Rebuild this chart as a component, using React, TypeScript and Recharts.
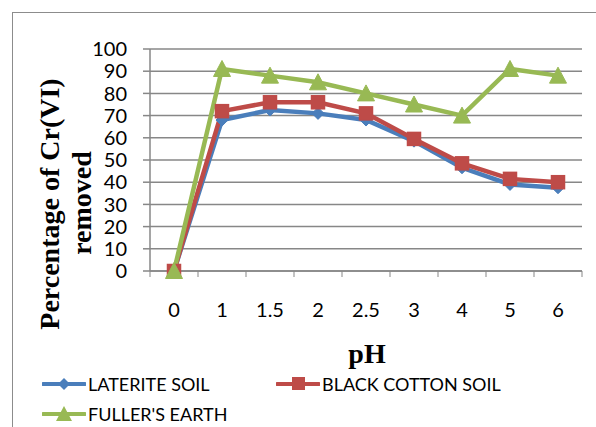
import { LineChart, Line, XAxis, YAxis, CartesianGrid } from 'recharts'

document.body.style.margin = '0'

const phLevels = ['0', '1', '1.5', '2', '2.5', '3', '4', '5', '6']
const lateriteSoil = [0, 68, 72.5, 71, 68, 58.5, 46.5, 39, 37.5]
const blackCottonSoil = [0, 72, 76, 76, 71, 59.5, 48.5, 41.5, 40]
const fullersEarth = [0, 91, 88, 85, 80, 75, 70, 91, 88]
const yTicks = [0, 10, 20, 30, 40, 50, 60, 70, 80, 90, 100]

const BLUE = '#4A7EBB'
const RED = '#BE4B48'
const GREEN = '#98B954'
const GRID = '#878787'

const data = phLevels.map((ph, i) => ({
  ph,
  laterite: lateriteSoil[i],
  blackCotton: blackCottonSoil[i],
  fullers: fullersEarth[i]
}))

const Diamond = (props: any) => {
  const { cx, cy } = props
  if (cx == null || cy == null) return null
  const r = 6
  return <path d={`M${cx},${cy - r}L${cx + r},${cy}L${cx},${cy + r}L${cx - r},${cy}Z`} fill={BLUE} stroke={BLUE} />
}

const Square = (props: any) => {
  const { cx, cy } = props
  if (cx == null || cy == null) return null
  const s = 13
  return <rect x={cx - s / 2} y={cy - s / 2} width={s} height={s} fill={RED} stroke={RED} strokeWidth={1.5} />
}

const Triangle = (props: any) => {
  const { cx, cy } = props
  if (cx == null || cy == null) return null
  const h = 15
  const w = 17
  return <path d={`M${cx},${cy - h / 2 - 1}L${cx + w / 2},${cy + h / 2}L${cx - w / 2},${cy + h / 2}Z`} fill={GREEN} stroke={GREEN} />
}

const XTick = (props: any) => {
  const { x, y, payload, index, width } = props
  const half = (width ?? 432) / phLevels.length / 2
  return (
    <g>
      <line x1={x - half} y1={y} x2={x - half} y2={y + 6} stroke={GRID} />
      {index === phLevels.length - 1 ? (
        <line x1={x + half} y1={y} x2={x + half} y2={y + 6} stroke={GRID} />
      ) : null}
      <text x={x} y={y + 46} textAnchor='middle' fill='#000' fontFamily='Lato' fontSize={20}>
        {payload.value}
      </text>
    </g>
  )
}

const legendItems = [
  { label: 'LATERITE SOIL', color: BLUE, marker: 'diamond', left: 42, top: 384 },
  { label: 'BLACK COTTON SOIL', color: RED, marker: 'square', left: 276, top: 384 },
  { label: "FULLER'S EARTH", color: GREEN, marker: 'triangle', left: 42, top: 414 }
]

const LegendMarker = ({ color, marker }: { color: string; marker: string }) => (
  <svg width={44} height={18} style={{ display: 'block' }}>
    <line x1={1} y1={9} x2={43} y2={9} stroke={color} strokeWidth={4} strokeLinecap='round' />
    {marker === 'diamond' ? <path d='M22,3L28,9L22,15L16,9Z' fill={color} /> : null}
    {marker === 'square' ? <rect x={16} y={2} width={13} height={13} fill={color} /> : null}
    {marker === 'triangle' ? <path d='M22,1L30,16L14,16Z' fill={color} /> : null}
  </svg>
)

export default function App() {
  return (
    <div style={{ position: 'relative', width: 596, height: 427, overflow: 'hidden', background: '#fff' }}>
      <div
        style={{
          position: 'absolute',
          left: 12,
          top: 12,
          width: 600,
          height: 440,
          border: '1.5px solid #8c8c8c'
        }}
      />
      <div style={{ position: 'absolute', left: 0, top: 0 }}>
        <LineChart width={596} height={427} data={data} margin={{ top: 49, right: 14, bottom: 0, left: 0 }}>
          <CartesianGrid vertical={false} stroke={GRID} strokeWidth={1.5} />
          <XAxis
            dataKey='ph'
            height={156}
            padding={{ left: 24, right: 24 }}
            tickLine={false}
            tickSize={0}
            tickMargin={0}
            interval={0}
            axisLine={{ stroke: GRID, strokeWidth: 1.5 }}
            tick={<XTick />}
          />
          <YAxis
            width={150}
            domain={[0, 100]}
            ticks={yTicks}
            interval={0}
            tickSize={7}
            tickMargin={16}
            axisLine={{ stroke: GRID, strokeWidth: 1.5 }}
            tickLine={{ stroke: GRID, strokeWidth: 1.5 }}
            tick={{ fill: '#000', fontFamily: 'Lato', fontSize: 20 }}
          />
          <Line dataKey='laterite' stroke={BLUE} strokeWidth={4.5} dot={<Diamond />} activeDot={false} isAnimationActive={false} />
          <Line dataKey='blackCotton' stroke={RED} strokeWidth={4.5} dot={<Square />} activeDot={false} isAnimationActive={false} />
          <Line dataKey='fullers' stroke={GREEN} strokeWidth={4.5} dot={<Triangle />} activeDot={false} isAnimationActive={false} />
        </LineChart>
      </div>
      <svg width={596} height={427} style={{ position: 'absolute', left: 0, top: 0, pointerEvents: 'none' }}>
        <text
          transform='translate(59,204) rotate(-90)'
          textAnchor='middle'
          fontFamily='Liberation Serif'
          fontWeight='bold'
          fontSize={28}
          fill='#000'
        >
          Percentage of Cr(VI)
        </text>
        <text
          transform='translate(91,203) rotate(-90)'
          textAnchor='middle'
          fontFamily='Liberation Serif'
          fontWeight='bold'
          fontSize={28}
          fill='#000'
        >
          removed
        </text>
        <text x={367} y={363} textAnchor='middle' fontFamily='Liberation Serif' fontWeight='bold' fontSize={28} fill='#000'>
          pH
        </text>
      </svg>
      {legendItems.map((item) => (
        <div
          key={item.label}
          style={{
            position: 'absolute',
            left: item.left,
            top: item.top - 11,
            display: 'flex',
            alignItems: 'center',
            fontFamily: 'Lato',
            fontSize: 18,
            lineHeight: '22px',
            color: '#000'
          }}
        >
          <LegendMarker color={item.color} marker={item.marker} />
          <span style={{ marginLeft: 2 }}>{item.label}</span>
        </div>
      ))}
    </div>
  )
}
